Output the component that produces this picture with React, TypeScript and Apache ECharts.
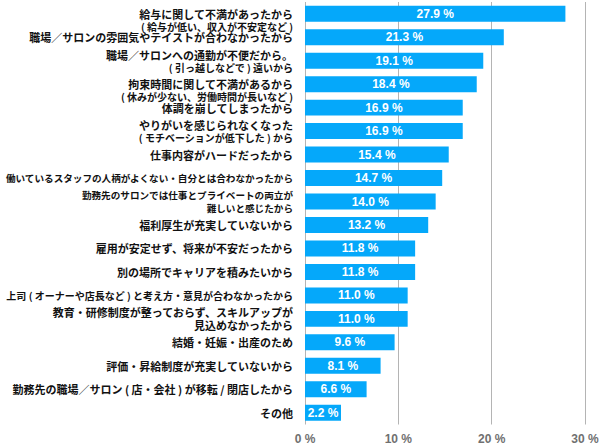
import React, { useEffect, useRef } from "react";
import * as echarts from "echarts";

const categories: string[] = [
  "給与に関して不満があったから\n( 給与が低い、収入が不安定など )",
  "職場／サロンの雰囲気やテイストが合わなかったから",
  "職場／サロンへの通勤が不便だから。\n( 引っ越しなどで ) 遠いから",
  "拘束時間に関して不満があるから\n( 休みが少ない、労働時間が長いなど )",
  "体調を崩してしまったから",
  "やりがいを感じられなくなった\n( モチベーションが低下した ) から",
  "仕事内容がハードだったから",
  "働いているスタッフの人柄がよくない・自分とは合わなかったから",
  "勤務先のサロンでは仕事とプライベートの両立が\n難しいと感じたから",
  "福利厚生が充実していないから",
  "雇用が安定せず、将来が不安だったから",
  "別の場所でキャリアを積みたいから",
  "上司 ( オーナーや店長など ) と考え方・意見が合わなかったから",
  "教育・研修制度が整っておらず、スキルアップが\n見込めなかったから",
  "結婚・妊娠・出産のため",
  "評価・昇給制度が充実していないから",
  "勤務先の職場／サロン ( 店・会社 ) が移転 / 閉店したから",
  "その他",
];

const values: number[] = [
  27.9, 21.3, 19.1, 18.4, 16.9, 16.9, 15.4, 14.7, 14.0, 13.2, 11.8, 11.8, 11.0, 11.0, 9.6, 8.1, 6.6, 2.2,
];

const xTicks = { min: 0, max: 30, interval: 10 };

// styling helpers (not data)
const narrowMain = new Set([7, 8]);
const smallMain = new Set([12]);
const mainFirstAligned = new Set([0, 3]);

const JP = '"Noto Sans CJK JP", "Noto Sans", sans-serif';
const NUM = '"Liberation Sans", Arial, sans-serif';

export default function App() {
  const ref = useRef<HTMLDivElement>(null);
  useEffect(() => {
    if (!ref.current) return;
    const chart = echarts.init(ref.current, null, { renderer: "svg" });
    const base = { fontWeight: "bold", fontFamily: JP, color: "#111", align: "right" };
    chart.setOption({
      animation: false,
      grid: {
        left: 305,
        right: 15,
        top: 2,
        bottom: 23.5,
        containLabel: false,
        outerBoundsMode: "none",
      },
      xAxis: {
        type: "value",
        min: xTicks.min,
        max: xTicks.max,
        interval: xTicks.interval,
        axisLine: { show: false },
        axisTick: { show: false },
        splitLine: { show: true, lineStyle: { color: "#b4b4b4", width: 1 } },
        axisLabel: {
          formatter: "{value} %",
          color: "#707070",
          fontWeight: "bold",
          fontSize: 12,
          fontFamily: NUM,
          margin: 8,
        },
      },
      yAxis: {
        type: "category",
        data: categories,
        inverse: true,
        axisLine: { show: false },
        axisTick: { show: false },
        splitLine: { show: false },
        axisLabel: {
          margin: 12,
          interval: 0,
          formatter: (val: string, idx: number) => {
            const lines = val.split("\n");
            const out = lines.map((ln) => {
              if (ln.startsWith("(")) return `{s|${ln}}`;
              if (narrowMain.has(idx)) return `{n|${ln}}`;
              if (smallMain.has(idx)) return `{m|${ln}}`;
              return `{b|${ln}}`;
            });
            if (mainFirstAligned.has(idx)) out.unshift("{e| }");
            return out.join("\n");
          },
          rich: {
            b: { ...base, fontSize: 11, lineHeight: 13 },
            m: { ...base, fontSize: 10, lineHeight: 13 },
            n: { ...base, fontSize: 9.6, lineHeight: 13 },
            s: { ...base, fontSize: 10, lineHeight: 12 },
            e: { fontSize: 9.5, lineHeight: 12, align: "right" },
          },
        },
      },
      series: [
        {
          type: "bar",
          data: values,
          barCategoryGap: "32%",
          barMinHeight: 36,
          itemStyle: { color: "#05A8FA" },
          label: {
            show: true,
            position: "inside",
            color: "#ffffff",
            fontWeight: "bold",
            fontSize: 12,
            fontFamily: NUM,
            formatter: (p: any) => `${Number(p.value).toFixed(1)} %`,
          },
        },
      ],
    });
    return () => chart.dispose();
  }, []);
  return (
    <div
      ref={ref}
      style={{ position: "absolute", left: 0, top: 0, width: 600, height: 448, background: "#fff" }}
    />
  );
}
